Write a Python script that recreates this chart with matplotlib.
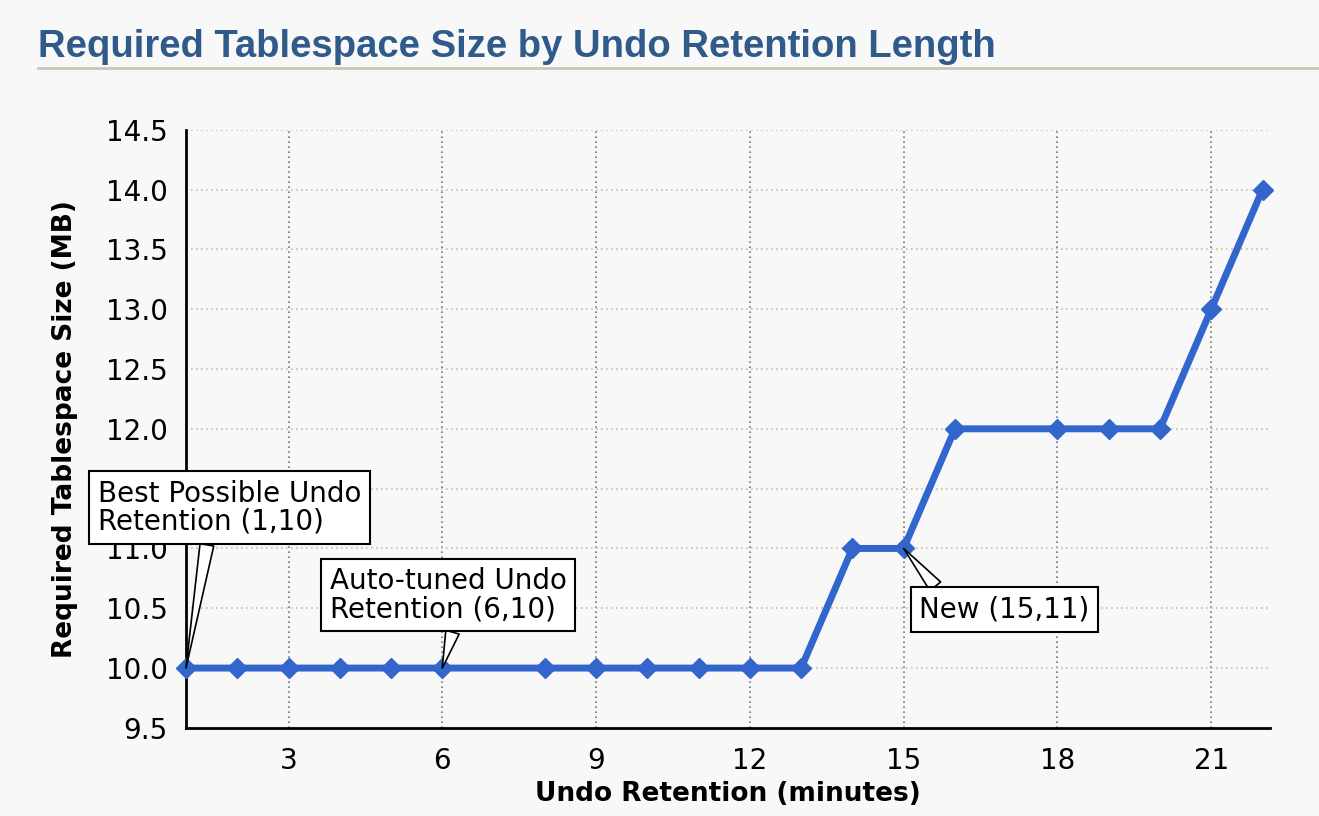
import numpy as np
import matplotlib
matplotlib.use('Agg')
import matplotlib.pyplot as plt
from matplotlib.lines import Line2D

# data (no markers at 7 and 17)
retention_min = [1, 2, 3, 4, 5, 6, 8, 9, 10, 11, 12, 13, 14, 15, 16, 18, 19, 20, 21, 22]
size_mb = [10, 10, 10, 10, 10, 10, 10, 10, 10, 10, 10, 10, 11, 11, 12, 12, 12, 12, 13, 14]
x_ticks = [3, 6, 9, 12, 15, 18, 21]
y_ticks = [9.5, 10.0, 10.5, 11.0, 11.5, 12.0, 12.5, 13.0, 13.5, 14.0, 14.5]

# (label, point, text anchor, where the pointer leaves the box)
callouts = [
    ('Best Possible Undo\nRetention (1,10)', (1, 10), (-0.72, 11.34), (0.42, 0.0)),
    ('Auto-tuned Undo\nRetention (6,10)', (6, 10), (3.8, 10.61), (0.53, 0.0)),
    ('New (15,11)', (15, 11), (15.3, 10.49), (0.14, 1.0)),
]

blue = '#3366cc'
bg = '#f8f8f8'

fig = plt.figure(figsize=(13.19, 8.16), dpi=100, facecolor=bg)
ax = fig.add_axes([0.141, 0.108, 0.822, 0.733], facecolor=bg)

# title + rule under it
fig.text(0.029, 0.943, 'Required Tablespace Size by Undo Retention Length',
         fontsize=27.5, fontweight='bold', color='#2f5a8a', family='Liberation Sans',
         va='center', ha='left')
fig.add_artist(Line2D([0.029, 1.0], [0.917, 0.917], transform=fig.transFigure,
                      color='#c9c6b4', lw=2))

ax.plot(retention_min, size_mb, color=blue, lw=5, marker='D', ms=10,
        mec=blue, mfc=blue, zorder=4, clip_on=False)

ax.set_xlim(1, 22.15)
ax.set_ylim(9.5, 14.5)
ax.set_xticks(x_ticks)
ax.set_yticks(y_ticks)
ax.set_yticklabels([f'{v:.1f}' for v in y_ticks])
ax.tick_params(labelsize=20, length=0)
ax.tick_params(axis='y', pad=13)
ax.tick_params(axis='x', pad=14)

# grid: vertical grey dotted, horizontal olive dotted
for xv in x_ticks:
    ax.axvline(xv, color='#777777', ls=(0, (1, 2)), lw=1.2, zorder=1)
for yv in y_ticks[1:]:
    ax.axhline(yv, color='#c8c49a', ls=(0, (1, 2)), lw=1.2, zorder=1)

for s in ['top', 'right']:
    ax.spines[s].set_visible(False)
for s in ['left', 'bottom']:
    ax.spines[s].set_linewidth(2)
    ax.spines[s].set_color('black')

ax.set_xlabel('Undo Retention (minutes)', fontsize=19, fontweight='bold', labelpad=4)
ax.set_ylabel('Required Tablespace Size (MB)', fontsize=19, fontweight='bold')
ax.yaxis.set_label_coords(-0.1, 0.5)

for txt, xy, xytext, rel in callouts:
    ax.annotate(txt, xy=xy, xytext=xytext, fontsize=20, ha='left', va='center',
                linespacing=1.0, zorder=6, annotation_clip=False,
                bbox=dict(boxstyle='square,pad=0.3', fc='white', ec='black', lw=1.5),
                arrowprops=dict(arrowstyle='wedge,tail_width=0.5', fc='white',
                                ec='black', lw=1.2, shrinkA=0, shrinkB=0,
                                relpos=rel))

plt.savefig('out.png', dpi=100, facecolor=bg)
